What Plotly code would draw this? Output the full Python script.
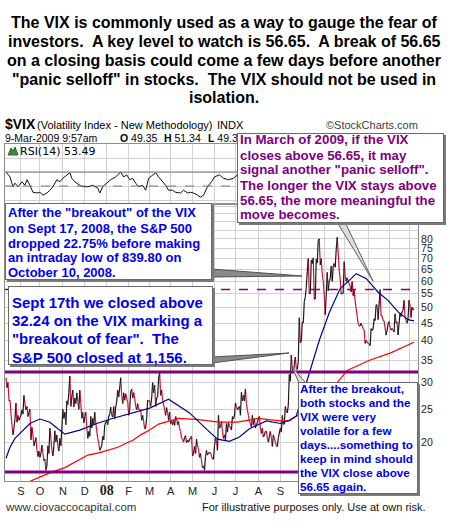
import math
import plotly.graph_objects as go

# ---------------- data ----------------
vix_dates = [
    "2007-08-14","2007-08-15","2007-08-16","2007-08-17","2007-08-20","2007-08-21","2007-08-22","2007-08-23","2007-08-24",
    "2007-08-27","2007-08-28","2007-08-29","2007-08-30","2007-08-31","2007-09-04","2007-09-05","2007-09-06","2007-09-07",
    "2007-09-10","2007-09-11","2007-09-12","2007-09-13","2007-09-14","2007-09-17","2007-09-18","2007-09-19","2007-09-20",
    "2007-09-21","2007-09-24","2007-09-25","2007-09-26","2007-09-27","2007-09-28","2007-10-01","2007-10-02","2007-10-03",
    "2007-10-04","2007-10-05","2007-10-08","2007-10-09","2007-10-10","2007-10-11","2007-10-12","2007-10-15","2007-10-16",
    "2007-10-17","2007-10-18","2007-10-19","2007-10-22","2007-10-23","2007-10-24","2007-10-25","2007-10-26","2007-10-29",
    "2007-10-30","2007-10-31","2007-11-01","2007-11-02","2007-11-05","2007-11-06","2007-11-07","2007-11-08","2007-11-09",
    "2007-11-12","2007-11-13","2007-11-14","2007-11-15","2007-11-16","2007-11-19","2007-11-20","2007-11-21","2007-11-23",
    "2007-11-26","2007-11-27","2007-11-28","2007-11-29","2007-11-30","2007-12-03","2007-12-04","2007-12-05","2007-12-06",
    "2007-12-07","2007-12-10","2007-12-11","2007-12-12","2007-12-13","2007-12-14","2007-12-17","2007-12-18","2007-12-19",
    "2007-12-20","2007-12-21","2007-12-24","2007-12-26","2007-12-27","2007-12-28","2007-12-31",
    "2008-01-02","2008-01-03","2008-01-04","2008-01-07","2008-01-08","2008-01-09","2008-01-10","2008-01-11","2008-01-14",
    "2008-01-15","2008-01-16","2008-01-17","2008-01-18","2008-01-22","2008-01-23","2008-01-24","2008-01-25","2008-01-28",
    "2008-01-29","2008-01-30","2008-01-31","2008-02-01","2008-02-04","2008-02-05","2008-02-06","2008-02-07","2008-02-08",
    "2008-02-11","2008-02-12","2008-02-13","2008-02-14","2008-02-15","2008-02-19","2008-02-20","2008-02-21","2008-02-22",
    "2008-02-25","2008-02-26","2008-02-27","2008-02-28","2008-02-29","2008-03-03","2008-03-04","2008-03-05","2008-03-06",
    "2008-03-07","2008-03-10","2008-03-11","2008-03-12","2008-03-13","2008-03-14","2008-03-17","2008-03-18","2008-03-19",
    "2008-03-20","2008-03-24","2008-03-25","2008-03-26","2008-03-27","2008-03-28","2008-03-31","2008-04-01","2008-04-02",
    "2008-04-03","2008-04-04","2008-04-07","2008-04-08","2008-04-09","2008-04-10","2008-04-11","2008-04-14","2008-04-15",
    "2008-04-16","2008-04-17","2008-04-18","2008-04-21","2008-04-22","2008-04-23","2008-04-24","2008-04-25","2008-04-28",
    "2008-04-29","2008-04-30","2008-05-01","2008-05-02","2008-05-05","2008-05-06","2008-05-07","2008-05-08","2008-05-09",
    "2008-05-12","2008-05-13","2008-05-14","2008-05-15","2008-05-16","2008-05-19","2008-05-20","2008-05-21","2008-05-22",
    "2008-05-23","2008-05-27","2008-05-28","2008-05-29","2008-05-30","2008-06-02","2008-06-03","2008-06-04","2008-06-05",
    "2008-06-06","2008-06-09","2008-06-10","2008-06-11","2008-06-12","2008-06-13","2008-06-16","2008-06-17","2008-06-18",
    "2008-06-19","2008-06-20","2008-06-23","2008-06-24","2008-06-25","2008-06-26","2008-06-27","2008-06-30","2008-07-01",
    "2008-07-02","2008-07-03","2008-07-07","2008-07-08","2008-07-09","2008-07-10","2008-07-11","2008-07-14","2008-07-15",
    "2008-07-16","2008-07-17","2008-07-18","2008-07-21","2008-07-22","2008-07-23","2008-07-24","2008-07-25","2008-07-28",
    "2008-07-29","2008-07-30","2008-07-31","2008-08-01","2008-08-04","2008-08-05","2008-08-06","2008-08-07","2008-08-08",
    "2008-08-11","2008-08-12","2008-08-13","2008-08-14","2008-08-15","2008-08-18","2008-08-19","2008-08-20","2008-08-21",
    "2008-08-22","2008-08-25","2008-08-26","2008-08-27","2008-08-28","2008-08-29","2008-09-02","2008-09-03","2008-09-04",
    "2008-09-05","2008-09-08","2008-09-09","2008-09-10","2008-09-11","2008-09-12","2008-09-15","2008-09-16","2008-09-17",
    "2008-09-18","2008-09-19","2008-09-22","2008-09-23","2008-09-24","2008-09-25","2008-09-26","2008-09-29","2008-09-30",
    "2008-10-01","2008-10-02","2008-10-03","2008-10-06","2008-10-07","2008-10-08","2008-10-09","2008-10-10","2008-10-13",
    "2008-10-14","2008-10-15","2008-10-16","2008-10-17","2008-10-20","2008-10-21","2008-10-22","2008-10-23","2008-10-24",
    "2008-10-27","2008-10-28","2008-10-29","2008-10-30","2008-10-31","2008-11-03","2008-11-04","2008-11-05","2008-11-06",
    "2008-11-07","2008-11-10","2008-11-11","2008-11-12","2008-11-13","2008-11-14","2008-11-17","2008-11-18","2008-11-19",
    "2008-11-20","2008-11-21","2008-11-24","2008-11-25","2008-11-26","2008-11-28","2008-12-01","2008-12-02","2008-12-03",
    "2008-12-04","2008-12-05","2008-12-08","2008-12-09","2008-12-10","2008-12-11","2008-12-12","2008-12-15","2008-12-16",
    "2008-12-17","2008-12-18","2008-12-19","2008-12-22","2008-12-23","2008-12-24","2008-12-26","2008-12-29","2008-12-30",
    "2008-12-31","2009-01-02","2009-01-05","2009-01-06","2009-01-07","2009-01-08","2009-01-09","2009-01-12","2009-01-13",
    "2009-01-14","2009-01-15","2009-01-16","2009-01-20","2009-01-21","2009-01-22","2009-01-23","2009-01-26","2009-01-27",
    "2009-01-28","2009-01-29","2009-01-30","2009-02-02","2009-02-03","2009-02-04","2009-02-05","2009-02-06","2009-02-09",
    "2009-02-10","2009-02-11","2009-02-12","2009-02-13","2009-02-17","2009-02-18","2009-02-19","2009-02-20","2009-02-23",
    "2009-02-24","2009-02-25","2009-02-26","2009-02-27","2009-03-02","2009-03-03","2009-03-04","2009-03-05","2009-03-06",
    "2009-03-09",
]
vix_close = [
    31.0,29.0,30.0,26.5,26.6,24.2,22.5,21.0,22.0,
    23.5,26.1,22.9,24.0,23.2,24.0,24.9,24.2,27.5,
    26.0,24.9,25.5,23.8,24.5,25.0,20.3,22.1,21.0,
    19.5,20.0,20.6,19.0,18.1,18.8,18.0,18.5,19.6,
    18.5,17.6,17.8,16.5,17.0,19.5,18.5,22.0,20.5,
    19.0,18.2,19.5,21.6,20.0,21.0,19.5,18.8,20.5,
    19.5,22.0,25.0,23.5,24.5,22.5,26.5,25.8,28.0,
    31.4,25.5,27.3,28.5,25.4,27.0,26.0,28.0,25.0,
    28.5,26.0,23.5,24.5,22.8,23.8,24.5,22.0,20.5,
    21.5,20.8,23.8,22.0,23.5,22.5,24.5,22.8,21.5,
    20.5,19.8,18.9,19.5,20.8,20.3,22.5,
    23.2,22.5,23.9,24.2,25.4,24.0,23.7,25.5,23.5,
    25.4,26.4,28.5,27.2,31.0,27.5,26.0,28.0,26.6,
    27.8,27.0,26.2,24.0,25.0,28.2,28.7,27.0,28.0,
    27.0,25.5,24.9,26.0,25.0,24.9,23.2,24.0,23.0,
    21.9,22.0,23.5,26.6,26.5,26.5,25.5,27.0,30.0,
    28.0,29.5,25.5,27.0,27.3,31.0,32.2,27.5,28.5,
    26.6,25.0,24.0,25.3,24.5,23.2,24.5,22.7,23.0,
    22.5,23.2,22.4,23.8,23.5,22.5,23.0,22.0,21.5,
    20.5,20.4,20.0,20.6,20.9,19.9,20.3,20.0,20.3,
    20.6,20.8,18.2,18.5,19.4,18.5,20.4,19.6,19.0,
    18.0,18.5,17.6,16.8,17.0,16.5,18.1,18.9,18.3,
    18.6,18.6,18.2,17.8,17.8,19.5,20.5,20.2,18.9,
    24.0,22.0,22.2,23.0,21.5,20.5,21.0,20.3,22.7,
    21.4,22.8,22.4,22.0,21.7,23.8,23.4,23.9,26.1,
    25.5,24.9,25.5,24.0,28.1,26.5,27.5,26.5,28.7,
    26.0,24.9,24.0,23.0,22.7,22.2,24.0,22.5,23.5,
    22.0,22.5,22.9,23.5,23.8,22.0,21.2,22.0,20.7,
    21.0,21.5,21.5,20.5,20.0,20.8,21.5,20.5,19.4,
    21.0,20.5,20.0,19.5,19.4,20.6,22.0,21.4,24.0,
    22.6,22.6,25.5,24.8,24.4,25.7,31.7,30.3,36.2,
    33.1,32.1,33.9,35.7,33.0,32.8,34.7,46.7,39.4,
    39.8,45.3,45.1,52.1,53.7,57.5,63.9,69.95,55.0,
    55.1,69.3,67.6,70.3,53.0,53.1,69.7,67.8,79.1,
    80.1,67.0,69.96,62.9,59.9,54.5,47.7,54.6,63.7,
    56.1,59.98,61.0,66.5,59.8,66.3,67.6,65.9,74.3,
    80.9,72.7,64.7,60.9,54.9,55.3,68.5,62.1,59.9,
    61.4,59.9,58.9,57.9,55.7,59.8,54.3,56.4,52.4,
    49.8,47.3,44.9,44.2,44.2,45.0,43.4,43.0,39.2,
    40.0,39.2,39.1,38.6,43.4,42.8,43.3,46.4,45.8,
    51.0,51.0,46.1,56.65,47.3,47.3,45.9,45.7,43.6,
    41.5,42.8,44.8,45.5,43.7,43.0,43.4,43.0,42.4,
    48.0,45.1,45.4,41.5,48.3,47.1,48.5,49.1,52.6,
    47.0,45.8,45.0,46.4,52.65,50.9,46.8,50.2,49.3,
    49.7,
]

ma50_dates = ["2007-08-14","2007-08-20","2007-08-27","2007-09-17","2007-10-01","2007-10-15","2007-10-25","2007-11-05",
              "2007-11-26","2007-12-19","2008-01-08","2008-02-08","2008-03-03","2008-03-28","2008-04-28","2008-05-22",
              "2008-06-05","2008-06-23","2008-07-07","2008-07-21","2008-08-13","2008-09-02","2008-09-15","2008-09-24",
              "2008-10-08","2008-10-14","2008-10-27","2008-11-10","2008-11-25","2008-12-10","2008-12-17","2008-12-31",
              "2009-01-16","2009-01-30","2009-02-13","2009-02-27","2009-03-09"]
ma50 = [17.9,19.3,20.5,22.7,23.4,22.9,21.9,21.1,
        21.7,22.7,23.4,24.4,25.2,26.8,24.4,21.7,
        20.4,20.1,20.7,21.9,23.1,22.7,23.2,23.9,
        30.1,32.6,40.0,48.3,57.0,61.0,63.1,61.1,
        55.6,52.6,48.6,46.1,45.7]

ma200_dates = ["2007-09-17","2007-10-15","2007-11-05","2007-11-26","2007-12-06","2007-12-24","2008-01-17","2008-02-08",
               "2008-02-19","2008-03-03","2008-03-14","2008-04-11","2008-05-09","2008-06-06","2008-07-03","2008-08-01",
               "2008-09-02","2008-09-15","2008-10-15","2008-11-20","2008-12-04","2009-01-06","2009-02-03","2009-03-09"]
ma200 = [15.3,16.2,16.8,17.8,18.3,18.6,19.3,20.3,
         21.0,21.7,22.6,23.5,23.3,22.9,22.9,23.5,
         23.1,23.1,25.5,30.0,32.6,35.0,36.7,39.5]

rsi_dates = ["2007-08-14","2007-08-20","2007-08-23","2007-08-27","2007-08-30","2007-09-05","2007-09-10","2007-09-12",
             "2007-09-17","2007-09-20","2007-09-26","2007-10-01","2007-10-04","2007-10-10","2007-10-15","2007-10-18",
             "2007-10-24","2007-10-29","2007-11-01","2007-11-07","2007-11-12","2007-11-14","2007-11-19","2007-11-26",
             "2007-11-29","2007-12-06","2007-12-13","2007-12-20","2007-12-24","2007-12-27","2008-01-03","2008-01-08",
             "2008-01-15","2008-01-22","2008-01-25","2008-01-30","2008-02-04","2008-02-07","2008-02-12","2008-02-15",
             "2008-02-21","2008-02-26","2008-02-29","2008-03-06","2008-03-11","2008-03-14","2008-03-20","2008-03-25",
             "2008-03-28","2008-04-03","2008-04-08","2008-04-15","2008-04-18","2008-04-24","2008-04-29","2008-05-02",
             "2008-05-08","2008-05-13","2008-05-16","2008-05-22","2008-05-28","2008-06-02","2008-06-09","2008-06-13",
             "2008-06-20","2008-06-27","2008-07-03","2008-07-15","2008-08-20","2008-09-17","2008-10-27","2008-11-20",
             "2009-01-06","2009-01-20","2009-03-09"]
rsi = [70,63,49,54,49,56,51,59,
       51,41,40,41,37,40,44,49,
       59,56,61,66,69,61,56,51,
       49,49,51,47,40,49,56,59,
       63,70,63,66,59,61,54,49,
       51,44,61,66,69,63,56,51,
       44,44,41,40,44,40,41,40,
       37,34,37,49,56,63,66,61,
       59,61,66,68,45,72,70,66,
       42,60,53.49]

month_ticks = ["2007-09-04","2007-10-01","2007-11-01","2007-12-03","2008-01-02","2008-02-01","2008-03-03","2008-04-01",
               "2008-05-01","2008-06-02","2008-07-01","2008-08-01","2008-09-02","2008-10-01","2008-11-03","2008-12-01",
               "2009-01-02","2009-02-02","2009-03-02"]
month_labels = ["S","O","N","D","<span style=\"font-family:'Liberation Serif';font-size:14px\"><b>08</b></span>",
                "F","M","A","M","J","J","A","S","","","","","",""]

price_ticks = [15,20,25,30,35,40,45,50,55,60,65,70,75,80,85,90,95,100]
price_tick_text = ["","20","25","30","35","40","45","50","55","60","65","70","75","80","","","",""]
rsi_grid = [30,50,70,90]

KEY_LEVEL = 56.65
BREAKOUT_LEVEL = 32.24
SUPPORT_LEVEL = 16.3

X_START, X_END = "2007-08-13", "2009-03-13"
PRICE_RANGE = (15.33, 101.5)
RSI_RANGE = (24.3, 110)

# ---------------- layout helpers ----------------
W, H = 451, 530
def px(x): return x / W
def py(y): return 1 - y / H

SANS = "Liberation Sans, Arial, sans-serif"
BLUE = "#0000ee"
PURPLE = "#800080"
GRID = "#d0d0d0"
FRAME = "#8c8c8c"

fig = go.Figure()

# price line coloured by direction (black up, red down)
up_x, up_y, dn_x, dn_y = [], [], [], []
for i in range(len(vix_close) - 1):
    sx = [vix_dates[i], vix_dates[i + 1], None]
    sy = [vix_close[i], vix_close[i + 1], None]
    if vix_close[i + 1] >= vix_close[i]:
        up_x += sx; up_y += sy
    else:
        dn_x += sx; dn_y += sy

fig.add_trace(go.Scatter(x=dn_x, y=dn_y, mode="lines", line=dict(color="#c8143c", width=1.2),
                         xaxis="x", yaxis="y", hoverinfo="skip", connectgaps=False))
fig.add_trace(go.Scatter(x=up_x, y=up_y, mode="lines", line=dict(color="#1a1a1a", width=1.2),
                         xaxis="x", yaxis="y", hoverinfo="skip", connectgaps=False))
fig.add_trace(go.Scatter(x=ma200_dates, y=ma200, mode="lines", line=dict(color="#ff0000", width=1.2),
                         xaxis="x", yaxis="y", hoverinfo="skip"))
fig.add_trace(go.Scatter(x=ma50_dates, y=ma50, mode="lines", line=dict(color="#00008b", width=1.2),
                         xaxis="x", yaxis="y", hoverinfo="skip"))
fig.add_trace(go.Scatter(x=rsi_dates, y=rsi, mode="lines", line=dict(color="#111111", width=1),
                         xaxis="x2", yaxis="y2", hoverinfo="skip"))

xdom = [px(5), px(418)]
common_x = dict(type="date", range=[X_START, X_END], rangebreaks=[dict(bounds=["sat", "mon"])],
                tickmode="array", tickvals=month_ticks, showgrid=True, gridcolor=GRID, gridwidth=1,
                showline=True, mirror=True, linecolor=FRAME, linewidth=1, zeroline=False, ticks="")

fig.update_layout(
    width=W, height=H, margin=dict(l=0, r=0, t=0, b=0),
    paper_bgcolor="white", plot_bgcolor="white", showlegend=False,
    xaxis=dict(domain=xdom, anchor="y", ticktext=month_labels,
               tickfont=dict(family=SANS, size=11, color="#222222"), **common_x),
    yaxis=dict(domain=[py(481), py(204)], anchor="x", type="log",
               range=[math.log10(PRICE_RANGE[0]), math.log10(PRICE_RANGE[1])],
               side="right", tickmode="array", tickvals=price_ticks, ticktext=price_tick_text,
               showgrid=True, gridcolor=GRID, showline=True, mirror=True, linecolor=FRAME,
               zeroline=False, ticks="", tickfont=dict(family=SANS, size=10.5, color="#222222")),
    xaxis2=dict(domain=xdom, anchor="y2", showticklabels=False, ticktext=[""] * len(month_ticks), **common_x),
    yaxis2=dict(domain=[py(204), py(144)], anchor="x2", range=list(RSI_RANGE), tickmode="array",
                tickvals=rsi_grid, showticklabels=False, showgrid=True, gridcolor=GRID,
                showline=True, mirror=True, linecolor=FRAME, zeroline=False, ticks=""),
)

shapes = []
# RSI reference lines
shapes.append(dict(type="line", xref="x2 domain", x0=0, x1=1, yref="y2", y0=70, y1=70,
                   line=dict(color="#7a7a7a", width=1)))
shapes.append(dict(type="line", xref="x2 domain", x0=0, x1=1, yref="y2", y0=50, y1=50,
                   line=dict(color="#7a7a7a", width=1, dash="dash")))
# key horizontal levels on the VIX
shapes.append(dict(type="line", xref="x domain", x0=0, x1=1, yref="y", y0=KEY_LEVEL, y1=KEY_LEVEL,
                   line=dict(color=PURPLE, width=1.5, dash="dash")))
shapes.append(dict(type="line", xref="x domain", x0=0, x1=1, yref="y", y0=BREAKOUT_LEVEL, y1=BREAKOUT_LEVEL,
                   line=dict(color=PURPLE, width=3)))
shapes.append(dict(type="line", xref="x domain", x0=0, x1=1, yref="y", y0=SUPPORT_LEVEL, y1=SUPPORT_LEVEL,
                   line=dict(color=PURPLE, width=3)))

def poly(points, fill="#8a8a8a", line="#505050"):
    d = "M " + " L ".join(f"{px(x):.5f},{py(y):.5f}" for x, y in points) + " Z"
    return dict(type="path", xref="paper", yref="paper", path=d, fillcolor=fill,
                line=dict(color=line, width=1), layer="above")

# callout tails
shapes.append(poly([(211, 269), (302, 276), (211, 277)]))
shapes.append(poly([(212, 357), (289, 353), (212, 363)]))
shapes.append(poly([(337, 222), (373, 281), (345, 222)], fill="#dcdcdc", line="#606060"))
shapes.append(poly([(299, 383), (292, 367), (306, 383)], fill="#dcdcdc", line="#606060"))
# RSI icon
shapes.append(poly([(8, 155), (11, 148), (13, 151), (15, 147), (18, 155)], fill="#3f8a3f", line="#2f6a2f"))
fig.update_layout(shapes=shapes)

ann = []
def txt(s, x, y, size, color="black", anchor="left", family=SANS):
    ann.append(dict(xref="paper", yref="paper", x=px(x), y=py(y), xanchor=anchor, yanchor="middle",
                    text=s, showarrow=False, borderwidth=0, borderpad=0,
                    font=dict(family=family, size=size, color=color)))

def box(x0, y0, x1, y1):
    # shadow then box
    ann.append(dict(xref="paper", yref="paper", x=px(x0 + 2), y=py(y0 + 2), xanchor="left", yanchor="top",
                    text="&nbsp;", showarrow=False, width=x1 - x0, height=y1 - y0, bgcolor="#7a7a7a",
                    borderwidth=0, borderpad=0, font=dict(size=1)))
    ann.append(dict(xref="paper", yref="paper", x=px(x0), y=py(y0), xanchor="left", yanchor="top",
                    text="&nbsp;", showarrow=False, width=x1 - x0 - 2, height=y1 - y0 - 2, bgcolor="white",
                    bordercolor="#6a6a6a", borderwidth=1, borderpad=0, font=dict(size=1)))

# title
title_lines = [
    "The VIX is commonly used as a way to gauge the fear of",
    "investors.&nbsp; A key level to watch is 56.65.&nbsp; A break of 56.65",
    "on a closing basis could come a few days before another",
    "\"panic selloff\" in stocks.&nbsp; The VIX should not be used in",
    "isolation.",
]
for s, yy in zip(title_lines, [23, 42, 61, 80, 98]):
    txt("<b>" + s + "</b>", 224, yy, 16, anchor="center")

# header
txt("<b>$VIX</b>", 5, 124, 14)
txt("(Volatility Index - New Methodology)", 37, 125, 11)
txt("INDX", 217, 125, 11)
txt("©StockCharts.com", 418, 125, 11, color="#404040", anchor="right")
txt("9-Mar-2009 9:57am", 5, 138, 10.5)
txt("<b>O</b> 49.35", 120, 138, 10.5)
txt("<b>H</b> 51.34", 164, 138, 10.5)
txt("<b>L</b> 49.3", 208, 138, 10.5)
txt("RSI(14) 53.49", 20, 151, 11, family="DejaVu Sans")

# boxes
box(237, 133, 444, 223)
box(5, 203, 212, 280)
box(8, 286, 213, 365)
box(298, 382, 418, 494)

b3 = ["In March of 2009, if the VIX", "closes above 56.65, it may", "signal another \"panic selloff\".",
      "The longer the VIX stays above", "56.65, the more meaningful the", "move becomes."]
for s, yy in zip(b3, [140, 155, 170, 185, 200, 214.5]):
    txt("<b>" + s + "</b>", 240, yy, 13.3, color=PURPLE)

b1 = ["After the \"breakout\" of the VIX", "on Sept 17, 2008, the S&amp;P 500", "dropped 22.75% before making",
      "an intraday low of 839.80 on", "October 10, 2008."]
for s, yy in zip(b1, [212, 228, 243, 257, 272]):
    txt("<b>" + s + "</b>", 8, yy, 13, color=BLUE)

b2 = ["Sept 17th we closed above", "32.24 on the VIX marking a", "\"breakout of fear\".&nbsp; The",
      "S&amp;P 500 closed at 1,156."]
for s, yy in zip(b2, [302, 320, 338, 357]):
    txt("<b>" + s + "</b>", 12, yy, 15, color=BLUE)

b4 = ["After the breakout,", "both stocks and the", "VIX were very", "volatile for a few",
      "days....something to", "keep in mind should", "the VIX close above", "56.65 again."]
for s, yy in zip(b4, [388, 402, 416.5, 430.5, 444.5, 458, 472, 486.5]):
    txt("<b>" + s + "</b>", 300, yy, 11.7, color=BLUE)

# footer
txt("www.ciovaccocapital.com", 5, 507, 11.5, color="#333333")
txt("For illustrative purposes only. Use at own risk.", 202, 507, 11, color="#111111")

fig.update_layout(annotations=ann)
fig.write_html("out.html")
